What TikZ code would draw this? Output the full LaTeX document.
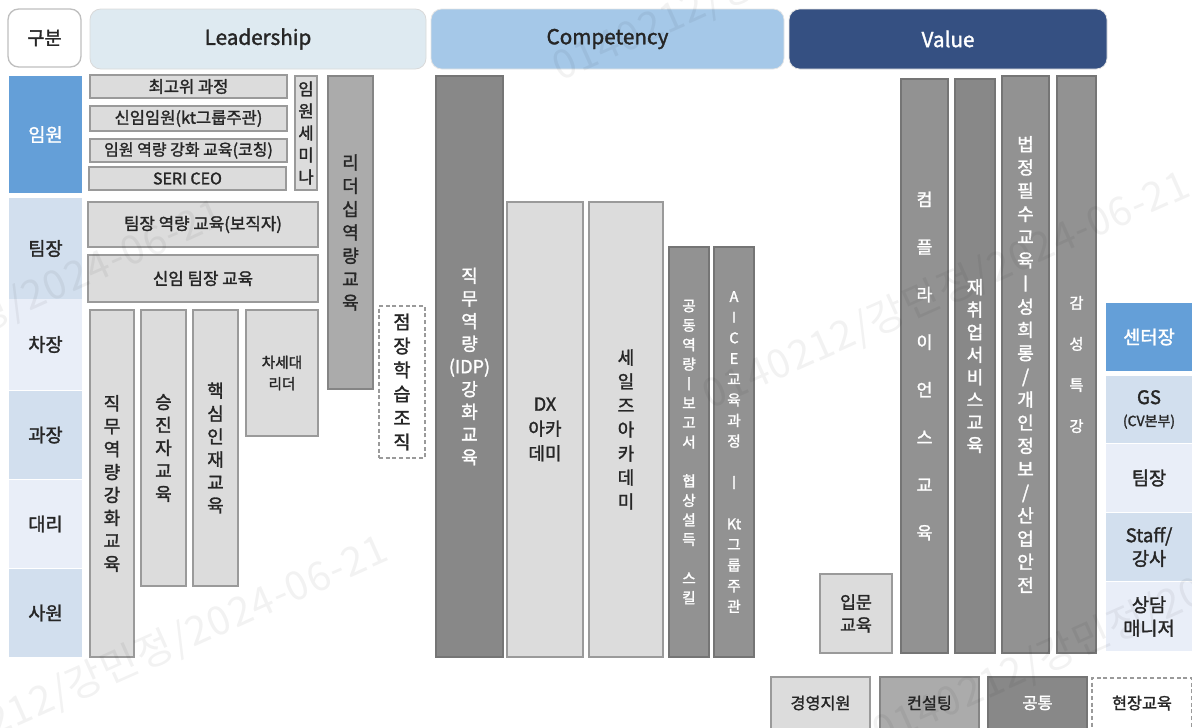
\documentclass[tikz,border=0pt]{standalone}
\usepackage{fontspec}
\setmainfont{Noto Sans CJK KR}[FakeBold=1.6]
\newfontfamily\wmfont{Noto Sans CJK KR}[LetterSpace=3]
\newcommand{\bx}[7]{%
  \pgfmathsetmacro{\cxv}{(#2+#4)/2}\pgfmathsetmacro{\cyv}{(#3+#5)/2}%
  \pgfmathsetmacro{\wv}{(#4-#2)*0.75}\pgfmathsetmacro{\hv}{(#5-#3)*0.75}%
  \node[#6,minimum width=\wv pt,minimum height=\hv pt] (#1) at (\cxv,\cyv) {#7};}
\definecolor{hA}{HTML}{DEEAF1}
\definecolor{hB}{HTML}{A5C8E8}
\definecolor{hC}{HTML}{355082}
\definecolor{boxlt}{HTML}{DCDCDC}
\definecolor{boxltb}{HTML}{9A9A9A}
\definecolor{boxmd}{HTML}{ABABAB}
\definecolor{boxmdb}{HTML}{858585}
\definecolor{boxdk}{HTML}{888888}
\definecolor{boxdm}{HTML}{929292}
\definecolor{boxdkb}{HTML}{757575}
\definecolor{lvA}{HTML}{649FD8}
\definecolor{lvB}{HTML}{D2DFEE}
\definecolor{lvC}{HTML}{E9EEF8}
\tikzset{
  base/.style={inner sep=0pt,outer sep=0pt,align=center,line width=1pt,text=black!85},
  sz/.style 2 args={font=\fontsize{#1}{#2}\selectfont},
  hdr/.style={base,rounded corners=8pt,line width=.6pt,sz={15.5}{18}},
  lvl/.style={base,sz={14}{17.5}},
  lt/.style={base,fill=boxlt,draw=boxltb},
  md/.style={base,fill=boxmd,draw=boxmdb},
  dk/.style={base,fill=boxdk,draw=boxdkb,text=white},
  dm/.style={base,fill=boxdm,draw=boxdkb,text=white},
  dsh/.style={base,fill=white,draw=boxltb,densely dashed,line width=.8pt},
  wm/.style={font=\wmfont\fontsize{30}{34}\selectfont,text=black,opacity=.05,rotate=24,inner sep=0pt}
}
\begin{document}
\begin{tikzpicture}[x=0.75pt,y=-0.75pt]
\useasboundingbox (0,0) rectangle (1192,728);
\clip (0,0) rectangle (1192,728);
% headers
\bx{hgubun}{8}{9}{81}{67}{hdr,fill=white,draw=black!25,line width=1pt,sz={14}{16}}{구분}
\bx{hlead}{90}{9}{426}{69}{hdr,fill=hA,draw=black!15}{Leadership}
\bx{hcomp}{431}{9}{784}{69}{hdr,fill=hB,draw=black!10}{Competency}
\bx{hval}{789}{9}{1107}{69}{hdr,fill=hC,draw=black!10,text=white}{Value}
% left levels
\bx{l1}{9}{76}{82}{193}{lvl,fill=lvA,text=white}{임원}
\bx{l2}{9}{198}{82}{299}{lvl,fill=lvB}{팀장}
\bx{l3}{9}{299}{82}{390}{lvl,fill=lvC}{차장}
\bx{l4}{9}{391}{82}{479}{lvl,fill=lvB}{과장}
\bx{l5}{9}{480}{82}{568}{lvl,fill=lvC}{대리}
\bx{l6}{9}{569}{82}{657}{lvl,fill=lvB}{사원}
% leadership
\bx{a1}{90}{75}{287}{98}{lt,sz={12.4}{14}}{최고위 과정}
\bx{a2}{90}{106}{287}{131}{lt,sz={12.4}{14}}{신임임원(kt그룹주관)}
\bx{a3}{90}{139}{287}{162}{lt,sz={12}{14}}{임원 역량 강화 교육(코칭)}
\bx{a4}{89}{167}{286}{190}{lt,sz={12}{14}}{SERI CEO}
\bx{a5}{295}{76}{317}{190}{lt,sz={12.5}{16.5}}{임\\원\\세\\미\\나}
\bx{a6}{328}{76}{373}{389}{md,sz={13.5}{17.5}}{리\\더\\십\\역\\량\\교\\육}
\bx{a7}{88}{202}{318}{247}{lt,sz={12.6}{14}}{팀장 역량 교육(보직자)}
\bx{a8}{88}{255}{318}{302}{lt,sz={12.6}{14}}{신임 팀장 교육}
\bx{a9}{90}{310}{134}{657}{lt,sz={13.5}{17.2}}{직\\무\\역\\량\\강\\화\\교\\육}
\bx{a10}{141}{310}{186}{586}{lt,sz={13.5}{17.2}}{승\\진\\자\\교\\육}
\bx{a11}{193}{310}{238}{586}{lt,sz={13.5}{17.2}}{핵\\심\\인\\재\\교\\육}
\bx{a12}{246}{310}{318}{436}{lt,sz={11}{16}}{차세대\\리더}
\bx{a13}{379}{306}{425}{458}{dsh,sz={14}{18}}{점\\장\\학\\습\\조\\직}
% competency
\bx{b1}{436}{76}{503}{657}{dk,sz={13.5}{17}}{직\\무\\역\\량\\(IDP)\\강\\화\\교\\육}
\bx{b2}{507}{202}{583}{657}{lt,sz={13.5}{18.5}}{DX\\아카\\데미}
\bx{b3}{589}{202}{663}{657}{lt,sz={13.5}{18}}{세\\일\\즈\\아\\카\\데\\미}
\bx{b4}{669}{247}{709}{657}{dm,sz={11}{14.6}}{공\\동\\역\\량\\ㅣ\\보\\고\\서\\~\\협\\상\\설\\득\\~\\스\\킬}
\bx{b5}{714}{247}{754}{657}{dm,sz={11}{15.5}}{A\\I\\C\\E\\교\\육\\과\\정\\~\\ㅣ\\~\\Kt\\그\\룹\\주\\관}
% value
\bx{c0}{820}{574}{892}{653}{lt,sz={13}{17}}{입문\\교육}
\bx{c1}{901}{79}{948}{653}{dm,sz={13}{35.7}}{컴\\플\\라\\이\\언\\스\\교\\육}
\bx{c2}{955}{79}{995}{653}{dk,sz={13.5}{16.9}}{재\\취\\업\\서\\비\\스\\교\\육}
\bx{c3}{1002}{76}{1049}{653}{dm,sz={13.5}{17.4}}{법\\정\\필\\수\\교\\육\\ㅣ\\성\\희\\롱\\/\\개\\인\\정\\보\\/\\산\\업\\안\\전}
\bx{c4}{1057}{76}{1096}{653}{dm,sz={11.5}{30.8}}{감\\성\\특\\강}
% right levels
\bx{r1}{1106}{303}{1192}{371}{lvl,fill=lvA,text=white}{센터장}
\bx{r2}{1106}{376}{1192}{443}{lvl,fill=lvB}{GS\\[-1pt]{\fontsize{10.5}{13}\selectfont (CV본부)}}
\bx{r3}{1106}{444}{1192}{512}{lvl,fill=lvC}{팀장}
\bx{r4}{1106}{513}{1192}{581}{lvl,fill=lvB}{Staff/\\강사}
\bx{r5}{1106}{582}{1192}{651}{lvl,fill=lvC}{상담\\매니저}
% legend
\bx{k1}{771}{677}{870}{740}{lt}{}
\bx{k2}{880}{677}{979}{740}{md}{}
\bx{k3}{988}{677}{1087}{740}{dk}{}
\bx{k4}{1092}{678}{1192}{740}{dsh}{}
\node[base,sz={12.2}{14},text=black!85] (k1t) at (820.5,703) {경영지원};
\node[base,sz={12.2}{14},text=black!85] (k2t) at (929.5,703) {컨설팅};
\node[base,sz={12.2}{14},text=white] (k3t) at (1037.5,703) {공통};
\node[base,sz={12.2}{14},text=black!85] (k4t) at (1142,703) {현장교육};
% watermarks
\node[wm,anchor=east] (w1) at (386,548) {0140212/강민정/2024-06-21};
\node[wm,anchor=east] (w2) at (222,212) {0140212/강민정/2024-06-21};
\node[wm,anchor=west] (w3) at (705,398) {0140212/강민정/2024-06-21};
\node[wm,anchor=west] (w4) at (875,735) {0140212/강민정/2024-06-21};
\node[wm,anchor=west] (w5) at (555,70) {0140212/강민정/2024-06-21};
\end{tikzpicture}
\end{document}
